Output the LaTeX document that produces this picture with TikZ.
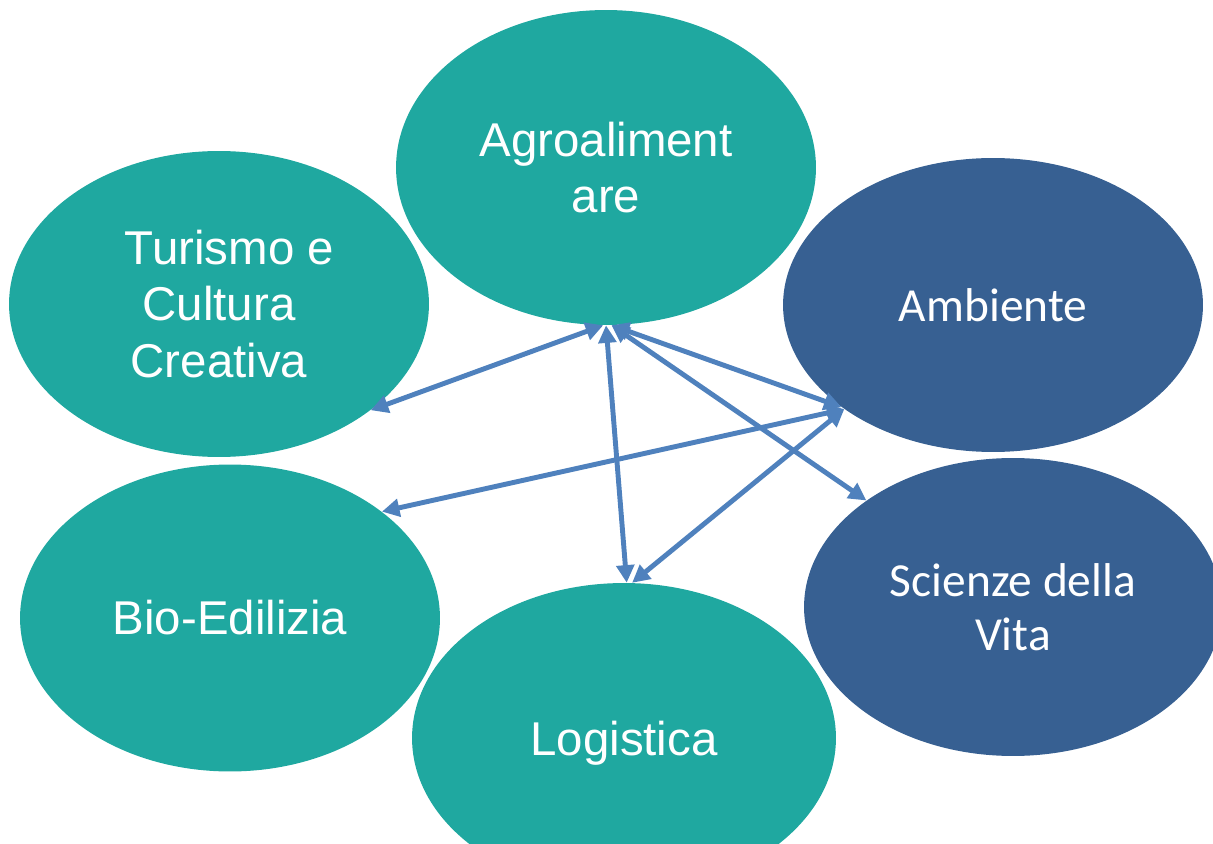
\documentclass[tikz,border=0pt]{standalone}
\usepackage{fontspec}
\setmainfont{Liberation Sans}
\newfontfamily\calib{Carlito}
\usetikzlibrary{shapes.geometric,arrows.meta}
\definecolor{tealc}{HTML}{1FA8A0}
\definecolor{bluec}{HTML}{376092}
\definecolor{arrc}{HTML}{4F81BD}
\tikzset{
  bubble/.style={ellipse, fill=tealc, text=white, inner sep=0pt, align=center,
     font=\fontsize{27pt}{32pt}\selectfont},
  dbubble/.style={ellipse, fill=bluec, text=white, inner sep=0pt, align=center,
     font=\calib\fontsize{27pt}{31pt}\selectfont},
  link/.style={draw=arrc, line width=2.8pt,
     {Triangle[length=10pt,width=10pt]}-{Triangle[length=10pt,width=10pt]}}
}
\begin{document}
\begin{tikzpicture}[x=0.02cm,y=-0.02cm]
\useasboundingbox (0,0) rectangle (1213,844);
\clip (0,0) rectangle (1213,844);
\node[bubble, minimum width=8.4cm, minimum height=6.3cm] (agro) at (606,167.5) {Agroaliment\\are};
\node[bubble, minimum width=8.4cm, minimum height=6.12cm] (tur) at (219,304) {\hspace*{12pt}Turismo e\\Cultura\\Creativa};
\node[dbubble, minimum width=8.4cm, minimum height=5.88cm] (amb) at (993,305) {Ambiente};
\node[bubble, minimum width=8.4cm, minimum height=6.14cm] (bio) at (230,618) {Bio-Edilizia};
\node[bubble, minimum width=8.48cm, minimum height=6.2cm, text depth=0pt] (log) at (624,738) {Logistica};
\node[dbubble, minimum width=8.36cm, minimum height=5.96cm] (sci) at (1013,607) {Scienze della\\Vita};
\draw[link] (agro.-91) -- (tur.-35.3);
\draw[link] (agro.-90) -- (log.89);
\draw[link] (agro.-88) -- (amb.214.5);
\draw[link] (agro.-88) -- (sci.144);
\draw[link] (amb.215) -- (bio.35.9);
\draw[link] (amb.215.5) -- (log.87.8);
\end{tikzpicture}
\end{document}
